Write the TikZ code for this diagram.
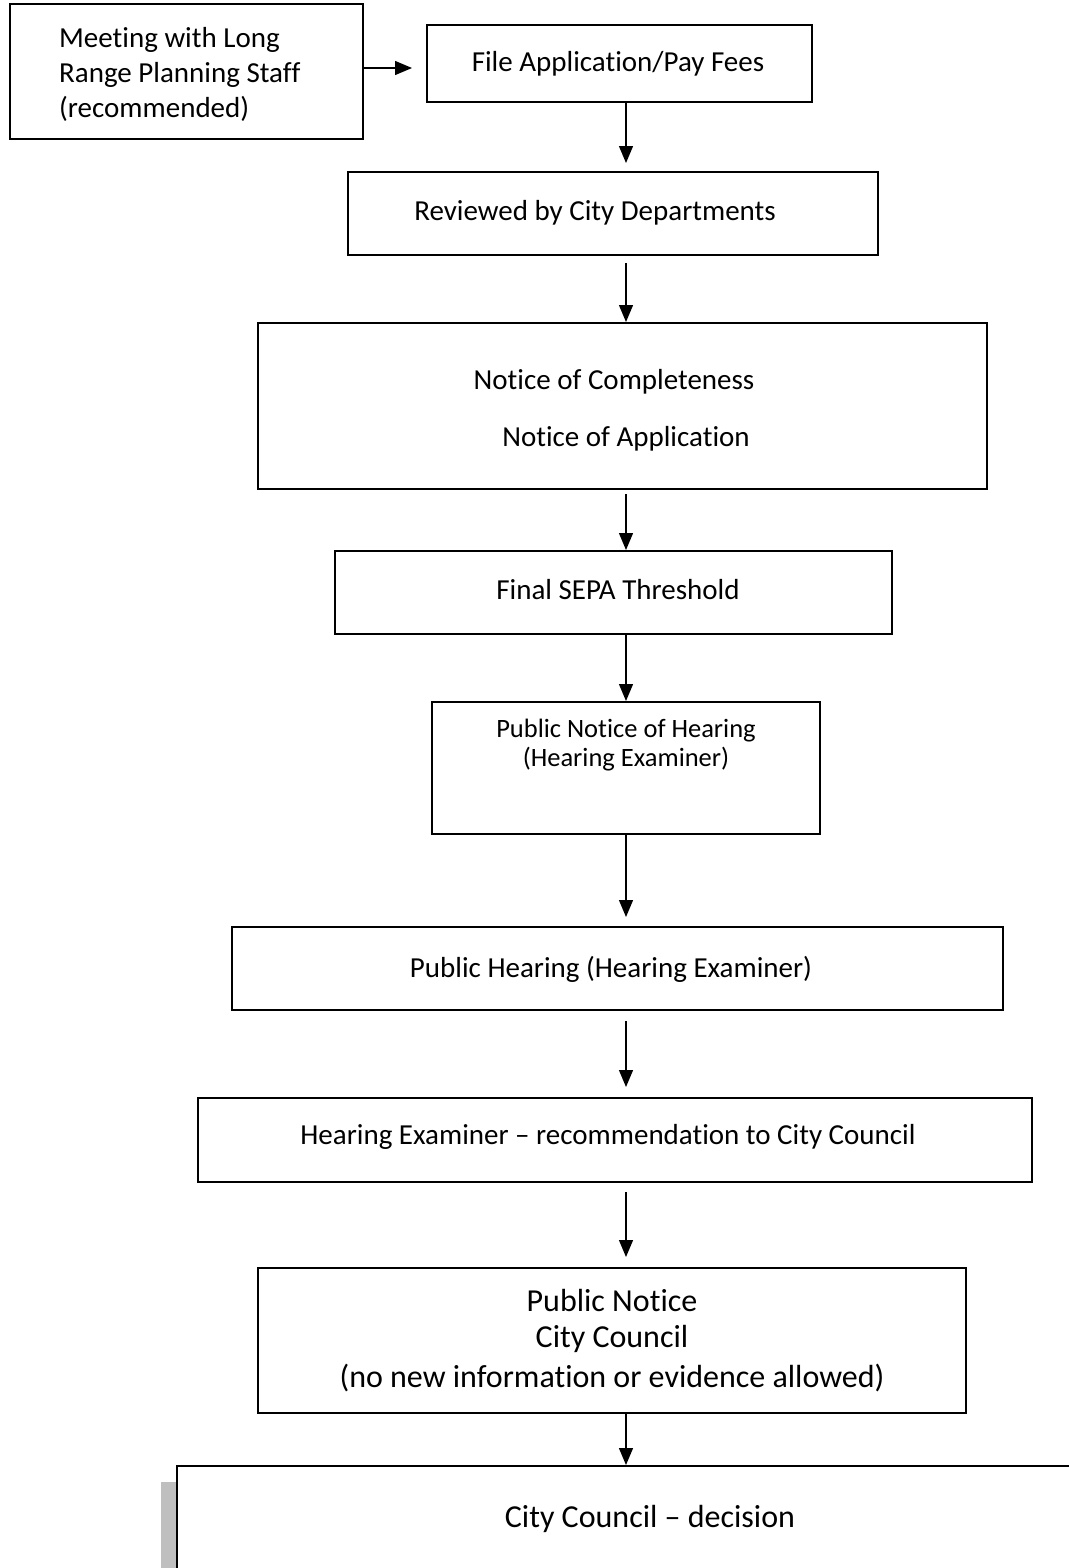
\documentclass[tikz,border=0pt]{standalone}
\usepackage{fontspec}
\setmainfont{Carlito}[RawFeature={-liga;-clig;-dlig;-rlig;-calt}]
\usetikzlibrary{arrows.meta}
\begin{document}
\begin{tikzpicture}[x=1pt,y=-1pt,
  box/.style={draw=black,line width=1.2pt,inner sep=0pt,outer sep=0pt,fill=white},
  txt/.style={inner sep=0pt,font=\fontsize{29}{35}\selectfont},
  txtsmall/.style={inner sep=0pt,font=\fontsize{26.5}{28}\selectfont},
  txtbig/.style={inner sep=0pt,font=\fontsize{32}{39}\selectfont},
  flow/.style={draw=black,line width=1.3pt,-{Triangle[length=17pt,width=14pt]}}]
\useasboundingbox (0,0) rectangle (1068,1568);
% boxes
\node[box,minimum width=353,minimum height=135] (b1) at (186.5,71.5) {};
\node[box,minimum width=385,minimum height=77] (b2) at (619.5,63.5) {};
\node[box,minimum width=530,minimum height=83] (b3) at (613,213.5) {};
\node[box,minimum width=729,minimum height=166] (b4) at (622.5,406) {};
\node[box,minimum width=557,minimum height=83] (b5) at (613.5,592.5) {};
\node[box,minimum width=388,minimum height=132] (b6) at (626,768) {};
\node[box,minimum width=771,minimum height=83] (b7) at (617.5,968.5) {};
\node[box,minimum width=834,minimum height=84] (b8) at (615,1140) {};
\node[box,minimum width=708,minimum height=145] (b9) at (612,1340.5) {};
\fill[black!25] (161,1482) rectangle (177,1600);
\node[box,minimum width=960,minimum height=140] (b10) at (657,1536) {};
% texts
\node[txt,align=left,anchor=west] (t1) at (59,74) {Meeting with Long\\Range Planning Staff\\(recommended)};
\node[txt] (t2) at (618,64) {File Application/Pay Fees};
\node[txt] (t3) at (595,213) {Reviewed by City Departments};
\node[txt] (t4a) at (614,382) {Notice of Completeness};
\node[txt] (t4b) at (626,439) {Notice of Application};
\node[txt] (t5) at (618,590) {Final SEPA Threshold};
\node[txtsmall] (t6a) at (626,731) {Public Notice of Hearing};
\node[txtsmall] (t6b) at (626,759) {(Hearing Examiner)};
\node[txt] (t7) at (611,969) {Public Hearing (Hearing Examiner)};
\node[txt] (t8) at (608,1137) {Hearing Examiner – recommendation to City Council};
\node[txtbig] (t9a) at (612,1300) {Public Notice};
\node[txtbig] (t9b) at (612,1339) {City Council};
\node[txtbig] (t9c) at (612,1378) {(no new information or evidence allowed)};
\node[txtbig] (t10) at (650,1519) {City Council – decision};
% connectors
\coordinate (col) at (626,0);
\draw[flow,shorten >=15pt] (b1.east |- 0,68) -- (b2.west |- 0,68);
\draw[flow,shorten >=9pt] (b2.south -| col) -- (b3.north -| col);
\draw[flow,shorten <=8pt,shorten >=1pt] (b3.south -| col) -- (b4.north -| col);
\draw[flow,shorten <=5pt,shorten >=1pt] (b4.south -| col) -- (b5.north -| col);
\draw[flow,shorten >=1pt] (b5.south -| col) -- (b6.north -| col);
\draw[flow,shorten >=10pt] (b6.south -| col) -- (b7.north -| col);
\draw[flow,shorten <=11pt,shorten >=11pt] (b7.south -| col) -- (b8.north -| col);
\draw[flow,shorten <=10pt,shorten >=11pt] (b8.south -| col) -- (b9.north -| col);
\draw[flow,shorten >=1pt] (b9.south -| col) -- (b10.north -| col);
\end{tikzpicture}
\end{document}
